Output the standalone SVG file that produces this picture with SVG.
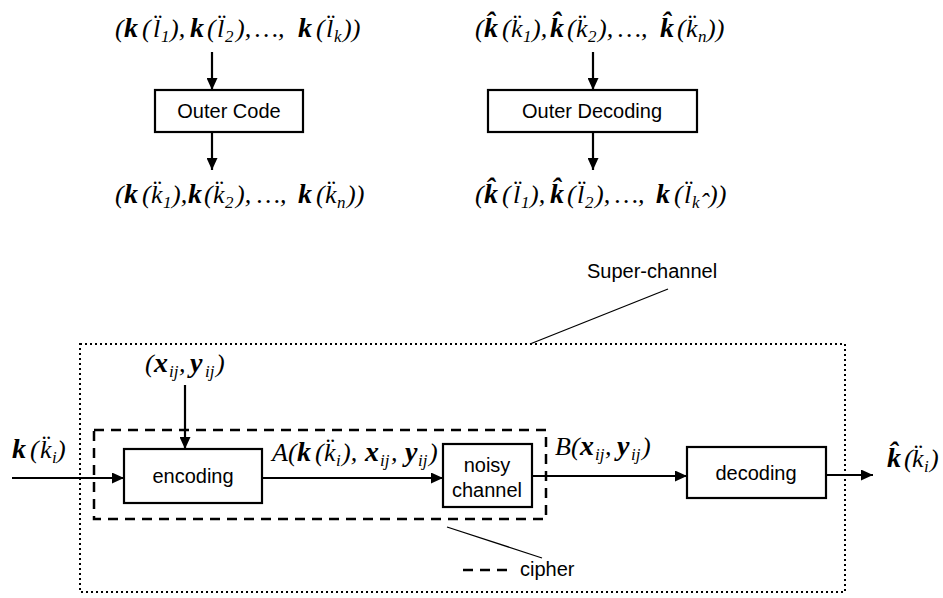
<svg xmlns="http://www.w3.org/2000/svg" width="943" height="598" viewBox="0 0 943 598">
<style>
.box{fill:#fff;stroke:#000;stroke-width:2.2}
.lbl{font-family:"Liberation Sans",Arial,sans-serif;font-size:20px;fill:#000}
.m{font-family:"Liberation Serif","Times New Roman",serif;font-style:italic;font-size:26px;fill:#000}
.b{font-weight:bold;font-size:28px}
.s{font-size:17px}
.edge{stroke:#000;stroke-width:2.2;fill:none}
.dot{stroke:#000;stroke-width:2;fill:none;stroke-dasharray:2 3}
.dash{stroke:#000;stroke-width:2.5;fill:none;stroke-dasharray:10 7}
.thin{stroke:#000;stroke-width:1.3;fill:none}
</style>
<defs>
<marker id="ah" markerUnits="userSpaceOnUse" markerWidth="13" markerHeight="11" refX="12" refY="5.5" orient="auto">
<path d="M0,0 L12,5.5 L0,11 z" fill="#000"/>
</marker>
</defs>

<g id="sequences">
<text id="seq-tl" class="m" y="37"><tspan x="115">(</tspan><tspan class="b" x="124">k</tspan><tspan x="142">(</tspan><tspan x="153">l̈</tspan><tspan class="s" x="161" y="42">1</tspan><tspan x="170" y="37">),</tspan><tspan class="b" x="190">k</tspan><tspan x="207">(</tspan><tspan x="217">l̈</tspan><tspan class="s" x="225" y="42">2</tspan><tspan x="236" y="37">),</tspan><tspan x="255">…,</tspan><tspan class="b" x="298">k</tspan><tspan x="316">(</tspan><tspan x="326">l̈</tspan><tspan class="s" x="334" y="42">k</tspan><tspan x="343" y="37">))</tspan></text>
<text id="seq-bl" class="m" y="203"><tspan x="115">(</tspan><tspan class="b" x="124">k</tspan><tspan x="142">(</tspan><tspan x="151">k̈</tspan><tspan class="s" x="163" y="208">1</tspan><tspan x="172" y="203">),</tspan><tspan class="b" x="188">k</tspan><tspan x="204">(</tspan><tspan x="213">k̈</tspan><tspan class="s" x="225" y="208">2</tspan><tspan x="236" y="203">),</tspan><tspan x="257">…,</tspan><tspan class="b" x="298">k</tspan><tspan x="316">(</tspan><tspan x="325">k̈</tspan><tspan class="s" x="337" y="208">n</tspan><tspan x="347" y="203">))</tspan></text>
<text id="seq-tr" class="m" y="37"><tspan x="475">(</tspan><tspan class="b" x="484">k̂</tspan><tspan x="502">(</tspan><tspan x="511">k̈</tspan><tspan class="s" x="523" y="42">1</tspan><tspan x="532" y="37">),</tspan><tspan class="b" x="550">k̂</tspan><tspan x="567">(</tspan><tspan x="576">k̈</tspan><tspan class="s" x="588" y="42">2</tspan><tspan x="598" y="37">),</tspan><tspan x="618">…,</tspan><tspan class="b" x="660">k̂</tspan><tspan x="677">(</tspan><tspan x="686">k̈</tspan><tspan class="s" x="698" y="42">n</tspan><tspan x="707" y="37">))</tspan></text>
<text id="seq-br" class="m" y="203"><tspan x="475">(</tspan><tspan class="b" x="484">k̂</tspan><tspan x="502">(</tspan><tspan x="513">l̈</tspan><tspan class="s" x="521" y="208">1</tspan><tspan x="530" y="203">),</tspan><tspan class="b" x="550">k̂</tspan><tspan x="567">(</tspan><tspan x="577">l̈</tspan><tspan class="s" x="585" y="208">2</tspan><tspan x="595" y="203">),</tspan><tspan x="615">…,</tspan><tspan class="b" x="656">k</tspan><tspan x="674">(</tspan><tspan x="684">l̈</tspan><tspan class="s" x="692" y="208">k</tspan><tspan x="700" y="211">ˆ</tspan><tspan x="709" y="203">))</tspan></text>
</g>

<g id="outer-code">
<rect class="box" x="155" y="90" width="148" height="42"/>
<text class="lbl" x="229" y="118" text-anchor="middle">Outer Code</text>
</g>
<g id="outer-decoding">
<rect class="box" x="488" y="90" width="209" height="42"/>
<text class="lbl" x="592" y="118" text-anchor="middle">Outer Decoding</text>
</g>

<g id="super-channel">
<rect class="dot" x="80" y="344" width="765" height="248"/>
<text class="lbl" x="587" y="278">Super-channel</text>
</g>
<g id="cipher">
<rect class="dash" x="94" y="430" width="452" height="89"/>
<line class="dash" x1="463" y1="570" x2="510" y2="570"/>
<text class="lbl" x="520" y="576">cipher</text>
</g>

<g id="encoding">
<rect class="box" x="124" y="449" width="138" height="54"/>
<text class="lbl" x="193" y="483" text-anchor="middle">encoding</text>
</g>
<g id="noisy-channel">
<rect class="box" x="443" y="444" width="89" height="63"/>
<text class="lbl" x="487" y="472" text-anchor="middle">noisy</text>
<text class="lbl" x="487" y="497" text-anchor="middle">channel</text>
</g>
<g id="decoding">
<rect class="box" x="687" y="447" width="139" height="51"/>
<text class="lbl" x="756" y="480" text-anchor="middle">decoding</text>
</g>

<g id="labels">
<text id="lbl-in" class="m" y="458"><tspan class="b" x="12">k</tspan><tspan x="30">(</tspan><tspan x="40">k̈</tspan><tspan class="s" x="52" y="463">i</tspan><tspan x="57" y="458">)</tspan></text>
<text id="lbl-xy" class="m" y="372"><tspan x="145">(</tspan><tspan class="b" x="154">x</tspan><tspan class="s" x="169" y="377">ij</tspan><tspan x="179" y="372">,</tspan><tspan class="b" x="190">y</tspan><tspan class="s" x="205" y="377">ij</tspan><tspan x="216" y="372">)</tspan></text>
<text id="lbl-a" class="m" y="461"><tspan x="272">A</tspan><tspan x="288">(</tspan><tspan class="b" x="297">k</tspan><tspan x="315">(</tspan><tspan x="324">k̈</tspan><tspan class="s" x="336" y="466">i</tspan><tspan x="342" y="461">),</tspan><tspan class="b" x="365">x</tspan><tspan class="s" x="380" y="466">ij</tspan><tspan x="391" y="461">,</tspan><tspan class="b" x="405">y</tspan><tspan class="s" x="418" y="466">ij</tspan><tspan x="429" y="461">)</tspan></text>
<text id="lbl-b" class="m" y="455"><tspan x="555">B</tspan><tspan x="571">(</tspan><tspan class="b" x="580">x</tspan><tspan class="s" x="595" y="460">ij</tspan><tspan x="605" y="455">,</tspan><tspan class="b" x="617">y</tspan><tspan class="s" x="631" y="460">ij</tspan><tspan x="642" y="455">)</tspan></text>
<text id="lbl-out" class="m" y="467"><tspan class="b" x="887">k̂</tspan><tspan x="904">(</tspan><tspan x="912">k̈</tspan><tspan class="s" x="924" y="472">i</tspan><tspan x="930" y="467">)</tspan></text>
</g>

<g id="connectors">
<line class="edge" x1="212" y1="52" x2="212" y2="90" marker-end="url(#ah)"/>
<line class="edge" x1="212" y1="132" x2="212" y2="170" marker-end="url(#ah)"/>
<line class="edge" x1="593" y1="52" x2="593" y2="90" marker-end="url(#ah)"/>
<line class="edge" x1="593" y1="132" x2="593" y2="170" marker-end="url(#ah)"/>
<line class="edge" x1="185" y1="385" x2="185" y2="449" marker-end="url(#ah)"/>
<line class="edge" x1="12" y1="478" x2="124" y2="478" marker-end="url(#ah)"/>
<line class="edge" x1="262" y1="478" x2="443" y2="478" marker-end="url(#ah)"/>
<line class="edge" x1="532" y1="476" x2="687" y2="476" marker-end="url(#ah)"/>
<line class="edge" x1="826" y1="475" x2="873" y2="475" marker-end="url(#ah)"/>
<line class="thin" x1="668" y1="289" x2="530" y2="344"/>
<line class="thin" x1="447" y1="527" x2="542" y2="558"/>
</g>
</svg>
